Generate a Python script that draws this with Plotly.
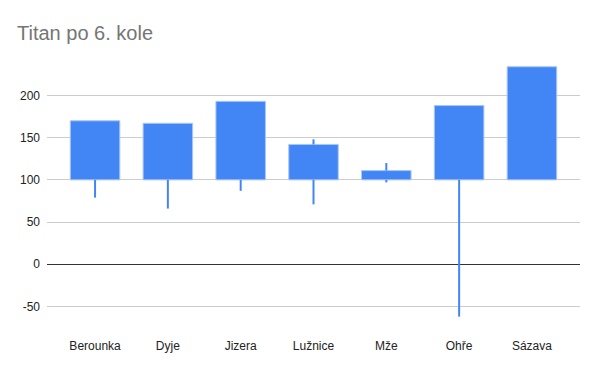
import plotly.graph_objects as go

categories = ["Berounka", "Dyje", "Jizera", "Lužnice", "Mže", "Ohře", "Sázava"]
open_vals = [100, 100, 100, 100, 100, 100, 100]
close_vals = [170, 167, 193, 142, 111, 188, 234]
high_vals = [170, 167, 193, 148, 120, 188, 234]
low_vals = [79, 66, 87, 71, 97, -62, 100]
tick_vals = [-50, 0, 50, 100, 150, 200]
tick_text = ["-50", "0", "50", "100", "150", "200"]

blue = "#4285F4"
font_family = "Liberation Sans, Arial, sans-serif"

# wick segments (outside the body) built from the data
wx, wy = [], []
for c, o, cl, lo, hi in zip(categories, open_vals, close_vals, low_vals, high_vals):
    body_lo, body_hi = min(o, cl), max(o, cl)
    if lo < body_lo:
        wx += [c, c, None]
        wy += [lo, body_lo, None]
    if hi > body_hi:
        wx += [c, c, None]
        wy += [body_hi, hi, None]

fig = go.Figure()
fig.add_trace(go.Scatter(x=wx, y=wy, mode="lines",
                         line=dict(color=blue, width=2), hoverinfo="skip",
                         showlegend=False))
fig.add_trace(go.Bar(x=categories,
                     y=[c - o for c, o in zip(close_vals, open_vals)],
                     base=open_vals, width=0.68,
                     marker=dict(color=blue, line=dict(color="#a9c6fa", width=1)),
                     showlegend=False))

fig.update_layout(
    width=592, height=363,
    margin=dict(l=39, r=20, t=52, b=51),
    paper_bgcolor="white", plot_bgcolor="white",
    title=dict(text="Titan po 6. kole", x=9 / 592, xanchor="left",
               y=1 - 25 / 363, yanchor="middle",
               font=dict(family=font_family, size=20, color="#757575")),
    font=dict(family=font_family, size=12, color="#222222"),
    xaxis=dict(range=[-0.66, 6.66], showgrid=False, showline=False, ticks="",
               ticklabelstandoff=17,
               tickfont=dict(size=12, color="#222222")),
    yaxis=dict(range=[-66, 242], tickvals=tick_vals, ticktext=tick_text,
               showgrid=True, gridcolor="#cccccc", gridwidth=1,
               zeroline=True, zerolinecolor="#333333", zerolinewidth=1,
               showline=False, ticks="", ticklabelstandoff=6,
               tickfont=dict(size=12, color="#222222")),
)

fig.write_html("out.html")
